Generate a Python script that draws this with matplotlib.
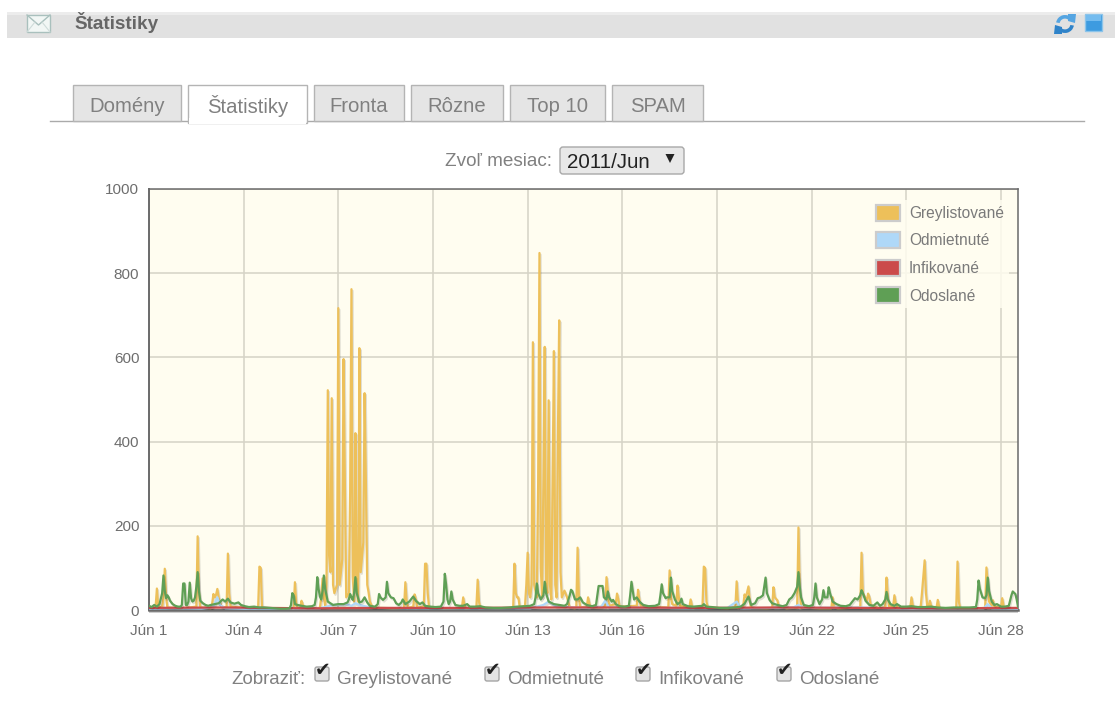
import matplotlib
matplotlib.use("Agg")
import matplotlib.pyplot as plt
import matplotlib.patheffects as pe
from matplotlib.patches import Rectangle, FancyBboxPatch, Patch, Polygon, Wedge

plt.rcParams['font.family'] = ['Liberation Sans', 'DejaVu Sans']

series_names = ["Greylistované", "Odmietnuté", "Infikované", "Odoslané"]
series_colors = ["#edc05a", "#afd8f8", "#cb4b4b", "#5f9f55"]
tick_days = [1, 4, 7, 10, 13, 16, 19, 22, 25, 28]
y_ticks = [0, 200, 400, 600, 800, 1000]
tab_names = ["Domény", "Štatistiky", "Fronta", "Rôzne", "Top 10", "SPAM"]

# (hour of the month, messages per hour)
grey_points = [
 (0,5),(5,6),(6,51),(7,8),(10,6),(11,30),(12,98),(13,30),(14,6),(25,4),(36,8),(37,175),(38,40),(39,6),
 (47,4),(48,14),(49,38),(50,30),(51,36),(52,50),(53,30),(55,8),(59,6),(60,134),(61,40),(62,8),(75,5),
 (83,5),(84,103),(85,100),(86,5),(100,3),(110,3),(111,66),(112,15),(113,4),(115,5),(116,22),(117,12),(118,4),
 (130,5),(131,30),(132,75),(133,30),(134,10),(135,60),(136,522),(137,130),(138,90),(139,503),(140,60),(141,40),
 (143,60),(144,717),(145,60),(147,120),(148,596),(149,300),(150,30),(152,40),(153,280),(154,762),(155,80),(156,20),
 (156.5,180),(157,420),(158,60),(159,20),(159.5,180),(160,622),(161,90),(163,160),(164,515),(165,300),(166,60),
 (167,42),(168,20),(170,6),(185,4),(194,5),(195,66),(196,20),(197,5),(201,8),(202,37),(203,25),(204,6),
 (209,8),(210,110),(211,110),(212,40),(213,6),(225,4),(238,5),(239,30),(240,10),(241,4),(249,6),(250,72),(251,20),(252,5),
 (265,4),(277,5),(278,110),(279,40),(280,30),(281,30),(282,6),(286,10),(287,60),(288,136),(289,40),(290,30),
 (291,60),(292,636),(293,60),(295,30),(296,300),(297,848),(298,100),(299,30),(300,300),(301,625),(302,60),(303,40),
 (304,498),(305,60),(306,25),(307,300),(308,615),(309,60),(310,30),(311,400),(312,688),(313,90),(314,30),(316,46),
 (318,30),(320,6),(324,4),(325,6),(326,148),(327,30),(328,6),(333,8),(334,30),(335,15),(336,6),
 (347,8),(348,78),(349,45),(350,10),(355,14),(356,39),(357,25),(358,8),(371,10),(372,48),(373,25),(374,10),
 (395,6),(396,94),(397,30),(398,14),(401,10),(402,58),(403,30),(404,10),(411,6),(412,25),(413,10),(414,4),
 (421,8),(422,103),(423,100),(424,20),(425,6),(440,4),(446,6),(447,68),(448,15),(449,5),
 (452,10),(453,37),(454,30),(456,56),(457,20),(458,5),(470,4),(474,5),(475,54),(476,30),(478,23),(479,8),
 (485,4),(493,6),(494,196),(495,45),(496,6),(510,4),(519,4),(520,30),(521,6),(524,4),(541,6),(542,136),(543,40),
 (546,22),(547,39),(548,30),(549,12),(555,5),(560,6),(561,77),(562,30),(563,8),(566,8),(567,35),(568,15),(569,6),
 (579,5),(580,30),(581,10),(582,5),(587,8),(588,42),(590,118),(591,40),(592,8),(593,8),(594,22),(595,8),
 (599,5),(600,24),(601,8),(602,4),(614,4),(615,115),(616,20),(617,4),(630,4),(636,5),(637,101),(638,60),(639,20),
 (641,10),(642,23),(643,8),(648,5),(649,28),(650,10),(651,5),(661,4),
]
blue_points = [
 (0,3),(20,4),(40,3),(48,6),(50,14),(52,30),(54,12),(58,4),(80,2),(130,4),(140,12),(150,14),(154,10),(157,16),
 (160,12),(170,5),(200,4),(290,4),(300,12),(304,20),(310,8),(330,5),(344,8),(347,22),(350,6),(390,5),(410,4),
 (440,5),(447,20),(450,4),(490,6),(494,12),(498,5),(540,6),(580,3),(635,4),(638,14),(641,4),(661,3),
]
red_points = [
 (0,5),(60,6),(120,4),(180,5),(240,5),(300,6),(360,6),(420,5),(480,6),(540,5),(600,4),(661,5),
]
green_points = [
 (0,10),(2,7),(4,12),(6,8),(8,14),(10,40),(11,82),(12,45),(13,28),(14,35),(15,30),(16,22),(18,14),(20,10),(22,8),(24,8),
 (25,12),(26,63),(27,63),(28,12),(29,12),(30,20),(31,65),(32,28),(33,20),(34,22),(35,30),(36,55),(37,90),(38,45),(39,22),
 (41,16),(43,12),(45,10),(47,12),(50,14),(53,16),(56,25),(58,20),(60,27),(62,18),(65,15),(68,18),(70,12),(73,9),(76,7),
 (80,8),(84,6),(88,6),(92,5),(96,4),(100,3),(104,3),(107,4),(108,12),(109,40),(110,35),(111,14),(113,12),(116,10),(120,8),
 (124,9),(126,12),(127,30),(128,78),(129,50),(130,32),(131,25),(132,45),(133,82),(134,50),(136,20),(140,12),(144,14),
 (148,14),(151,18),(152,25),(153,38),(154,30),(155,24),(156,40),(157,78),(158,40),(160,18),(162,20),(164,30),(166,18),
 (168,10),(172,8),(174,14),(175,38),(176,30),(178,24),(180,30),(181,67),(182,40),(184,30),(186,28),(188,16),(190,12),
 (192,18),(193,25),(195,14),(198,20),(201,32),(203,22),(206,14),(208,18),(210,10),(214,8),(218,7),(222,8),(224,20),
 (225,86),(226,60),(227,25),(228,14),(229,20),(230,44),(231,25),(233,12),(236,10),(239,10),(242,14),(244,8),(248,8),
 (252,9),(256,6),(262,5),(268,5),(274,6),(280,8),(286,9),(290,10),(293,14),(294,30),(295,63),(296,40),(298,25),(300,35),
 (301,67),(302,40),(304,20),(308,14),(312,12),(316,10),(318,14),(320,35),(321,48),(322,45),(324,25),(326,25),(328,30),
 (330,18),(333,12),(337,9),(340,12),(341,35),(342,57),(345,57),(346,30),(348,25),(349,44),(350,30),(352,20),(353,24),
 (355,14),(358,9),(362,8),(365,10),(366,35),(367,67),(368,45),(369,25),(371,30),(373,20),(376,12),(380,9),(385,10),
 (388,14),(389,35),(390,61),(391,40),(393,28),(394,30),(396,30),(397,77),(398,45),(400,25),(402,14),(404,18),(405,27),
 (406,14),(410,9),(414,8),(418,9),(421,10),(422,14),(424,8),(428,7),(434,5),(440,5),(446,6),(450,8),(453,15),(456,32),
 (458,12),(461,16),(463,28),(465,30),(467,35),(469,77),(470,40),(472,24),(474,16),(478,12),(482,9),(485,12),(487,25),
 (489,30),(491,40),(493,55),(494,90),(495,55),(496,30),(498,12),(502,9),(505,12),(506,30),(507,63),(508,30),(510,14),
 (512,25),(513,47),(514,30),(516,30),(517,54),(518,40),(520,20),(523,14),(526,10),(530,9),(533,12),(535,20),(537,28),
 (539,25),(541,35),(542,47),(543,40),(545,22),(548,12),(551,10),(554,18),(556,10),(558,14),(560,25),(561,43),(562,25),
 (564,14),(567,10),(569,14),(572,8),(576,8),(580,9),(585,7),(590,7),(595,8),(600,6),(606,5),(612,6),(618,6),(624,6),
 (629,7),(630,25),(631,70),(632,50),(634,30),(636,28),(637,35),(638,77),(639,45),(641,20),(643,12),(645,14),(648,8),
 (651,8),(654,10),(656,35),(657,44),(659,38),(660,25),(661,8),
]

fig = plt.figure(figsize=(11.15, 7.14), dpi=100, facecolor="white")
W, H = 1115, 714

page = fig.add_axes([0, 0, 1, 1], zorder=0)
page.set_xlim(0, W); page.set_ylim(H, 0); page.axis("off")

page.add_patch(Rectangle((7, 12), W - 7, 26, fc="#e1e1e1", ec="none"))
page.add_patch(Rectangle((7, 12), W - 7, 3, fc="#ececec", ec="none"))
page.add_patch(Rectangle((27, 15), 23, 17, fc="#f2f7f5", ec="#a9c0bd", lw=1))
page.plot([27, 38.5, 50], [15, 25, 15], color="#a9c0bd", lw=1)
page.plot([27, 35], [32, 22], color="#cfdcda", lw=0.8)
page.plot([50, 42], [32, 22], color="#cfdcda", lw=0.8)
page.text(74, 22.5, "Štatistiky", fontsize=13.6, fontweight="bold", color="#666666", va="center")

page.add_patch(Rectangle((1085, 14), 17, 17, fc="#3d9be0", ec="#8cc4ea", lw=1))
page.add_patch(Rectangle((1086, 15), 15, 6, fc="#74bcef", ec="none"))
page.add_patch(Wedge((1065, 24), 9, 190, 320, width=3.6, fc="#55a5e2", ec="none"))
page.add_patch(Polygon([[1068, 14], [1076, 14], [1075, 23], [1068, 21]], closed=True, fc="#55a5e2", ec="none"))
page.add_patch(Wedge((1065, 24), 9, 10, 140, width=3.6, fc="#2f83c9", ec="none"))
page.add_patch(Polygon([[1062, 34], [1054, 34], [1055, 25], [1062, 27]], closed=True, fc="#2f83c9", ec="none"))

page.plot([50, 1084], [121, 121], color="#aaaaaa", lw=1)
tab_lefts = [73, 188, 314, 411, 510, 612]
tab_rights = [181, 307, 404, 503, 605, 703]
for i, (name, x0, x1) in enumerate(zip(tab_names, tab_lefts, tab_rights)):
    active = i == 1
    page.add_patch(Rectangle((x0, 85), x1 - x0, 36 + (1.5 if active else 0),
                             fc="white" if active else "#e5e5e5", ec="#b4b4b4", lw=1,
                             zorder=3))
    if active:
        page.add_patch(Rectangle((x0 + 0.7, 118), x1 - x0 - 1.4, 6, fc="white", ec="none", zorder=4))
    page.text((x0 + x1) / 2, 106, name, fontsize=14.6, color="#808080",
              ha="center", va="center", zorder=5)

page.text(552, 162, "Zvoľ mesiac:", fontsize=13.6, color="#808080", ha="right", va="center")
page.add_patch(FancyBboxPatch((560, 147), 124, 27, boxstyle="round,pad=0,rounding_size=3",
                              fc="#e8e8e8", ec="#a8a8a8", lw=1))
page.text(567, 162, "2011/Jun", fontsize=14.8, color="#222222", va="center")
page.add_patch(Polygon([[665.5, 154], [674.5, 154], [670, 163]], closed=True, fc="#222222", ec="none"))

page.text(231, 679.5, "Zobraziť:", fontsize=13.4, color="#808080", va="center")
cb_x = [315, 485, 636, 777]
lab_x = [337, 507, 658, 799]
for name, cx, lx in zip(series_names, cb_x, lab_x):
    page.add_patch(FancyBboxPatch((cx, 667), 14, 14, boxstyle="round,pad=0,rounding_size=2",
                                  fc="#e4e4e4", ec="#a5a5a5", lw=1))
    page.text(cx + 8, 671, "✔", fontsize=13.5, color="#222222", ha="center", va="center",
              family=["DejaVu Sans"])
    page.text(lx, 679.5, name, fontsize=13.6, color="#808080", va="center")

page.add_patch(Rectangle((149, 610.5), 869, 2.5, fc="#cdcdcd", ec="none"))

left, right, top, bottom = 149, 1018, 189, 610
ax = fig.add_axes([left / W, 1 - bottom / H, (right - left) / W, (bottom - top) / H], zorder=2)
ax.set_facecolor("#fffdf0")
ax.set_xlim(0, 661); ax.set_ylim(0, 1000)
ax.set_xticks([(d - 1) * 24 for d in tick_days])
ax.set_xticklabels([f"Jún {d}" for d in tick_days])
ax.set_yticks(y_ticks)
ax.tick_params(length=0, labelsize=11, labelcolor="#6e6e6e", pad=7)
ax.tick_params(axis="x", pad=10)
ax.grid(True, color="#d5d3c6", lw=1.1)
ax.set_axisbelow(True)
for s in ax.spines.values():
    s.set_color("#6a6a6a"); s.set_linewidth(1.1)
ax.spines["left"].set_linewidth(1.4)
ax.spines["bottom"].set_linewidth(1.8)

all_points = [grey_points, blue_points, red_points, green_points]
for pts, c, n, z in zip(all_points, series_colors, series_names, [3, 4, 5, 6]):
    X, Y = zip(*pts)
    ax.plot(X, Y, color=c, lw=1.6, label=n, zorder=z, solid_joinstyle="round",
            path_effects=[pe.SimpleLineShadow(offset=(0.8, -1.2), shadow_color="k", alpha=0.12),
                          pe.Normal()])

handles = [Patch(fc=c, ec="#cccccc", lw=1.6, label=n) for c, n in zip(series_colors, series_names)]
leg = ax.legend(handles=handles, loc="upper left", bbox_to_anchor=(0.831, 0.974),
                frameon=True, facecolor="#fffdf0", edgecolor="none", framealpha=0.85,
                fontsize=11.2, labelcolor="#7a7a7a", handlelength=1.55, handleheight=1.2,
                labelspacing=0.73, handletextpad=0.58, borderpad=0.3, borderaxespad=0)
leg.set_zorder(10)

fig.savefig("out.png", dpi=100, facecolor="white")
